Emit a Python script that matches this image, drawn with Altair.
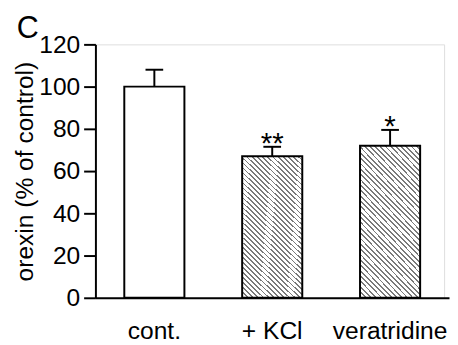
import altair as alt
import pandas as pd

conditions = ["cont.", "+ KCl", "veratridine"]
means = [100, 67, 72]
sems = [8, 4.5, 7.5]
stars = ["", "**", "*"]
y_ticks = [0, 20, 40, 60, 80, 100, 120]
hatched = ["+ KCl", "veratridine"]

df = pd.DataFrame({
    "cond": conditions,
    "mean": means,
    "hi": [m + s for m, s in zip(means, sems)],
    "star": stars,
})

# diagonal hatch as a striped linear gradient
n_stripes = 40
stops = []
for i in range(n_stripes):
    a = i / n_stripes
    b = (i + 0.35) / n_stripes
    c = (i + 1) / n_stripes
    stops += [
        {"offset": a, "color": "#7a7a7a"},
        {"offset": b, "color": "#7a7a7a"},
        {"offset": b, "color": "#ffffff"},
        {"offset": c, "color": "#ffffff"},
    ]
hatch = {"gradient": "linear", "x1": 0, "y1": 1, "x2": 0.493, "y2": -0.208, "stops": stops}

FONT = "Liberation Sans"
FS = 25

x = alt.X(
    "cond:N",
    sort=conditions,
    scale=alt.Scale(range=[0, 360], paddingInner=0.49, paddingOuter=0.245),
    axis=alt.Axis(
        title=None, labelAngle=0, ticks=False, labelPadding=21,
        labelFontSize=FS, labelFont=FONT, labelColor="black",
        domainColor="black", domainWidth=2,
    ),
)
y = alt.Y(
    "mean:Q",
    scale=alt.Scale(domain=[0, 120]),
    axis=alt.Axis(
        values=y_ticks, title="orexin (% of control)", grid=False,
        tickSize=12, tickWidth=2, tickColor="black",
        domainColor="black", domainWidth=2,
        labelFontSize=FS, labelFont=FONT, labelColor="black", labelPadding=4,
        titleFontSize=FS, titleFont=FONT, titleFontWeight="normal",
        titleColor="black", titlePadding=1,
    ),
)

base = alt.Chart(df)

open_bar = base.transform_filter(alt.datum.cond == "cont.").mark_bar(
    fill="white", stroke="black", strokeWidth=2
).encode(x=x, y=y)

hatch_bar = base.transform_filter(alt.FieldOneOfPredicate(field="cond", oneOf=hatched)).mark_bar(
    fill=hatch, stroke="black", strokeWidth=2
).encode(x=x, y=y)

err = base.mark_rule(color="black", strokeWidth=2).encode(
    x=x, y="mean:Q", y2="hi:Q"
)
cap = base.mark_tick(color="black", size=18, thickness=2, opacity=1).encode(
    x=x, y="hi:Q"
)
star_txt = base.mark_text(
    fontSize=30, font=FONT, color="black", dy=6, baseline="alphabetic"
).encode(x=x, y="hi:Q", text="star:N")

panel = alt.Chart(pd.DataFrame({"t": ["C"]})).mark_text(
    fontSize=31, font=FONT, color="black", align="left", baseline="alphabetic"
).encode(x=alt.value(-80), y=alt.value(-6), text="t:N")

chart = alt.layer(err, open_bar, hatch_bar, cap, star_txt, panel).properties(
    width=355, height=258,
    autosize=alt.AutoSizeParams(type="none"),
    padding={"left": 89, "top": 34, "right": 6, "bottom": 44},
).configure_view(stroke="black", strokeWidth=2).configure(background="white")

chart.save("out.html", embed_options={"renderer": "svg", "actions": False})
